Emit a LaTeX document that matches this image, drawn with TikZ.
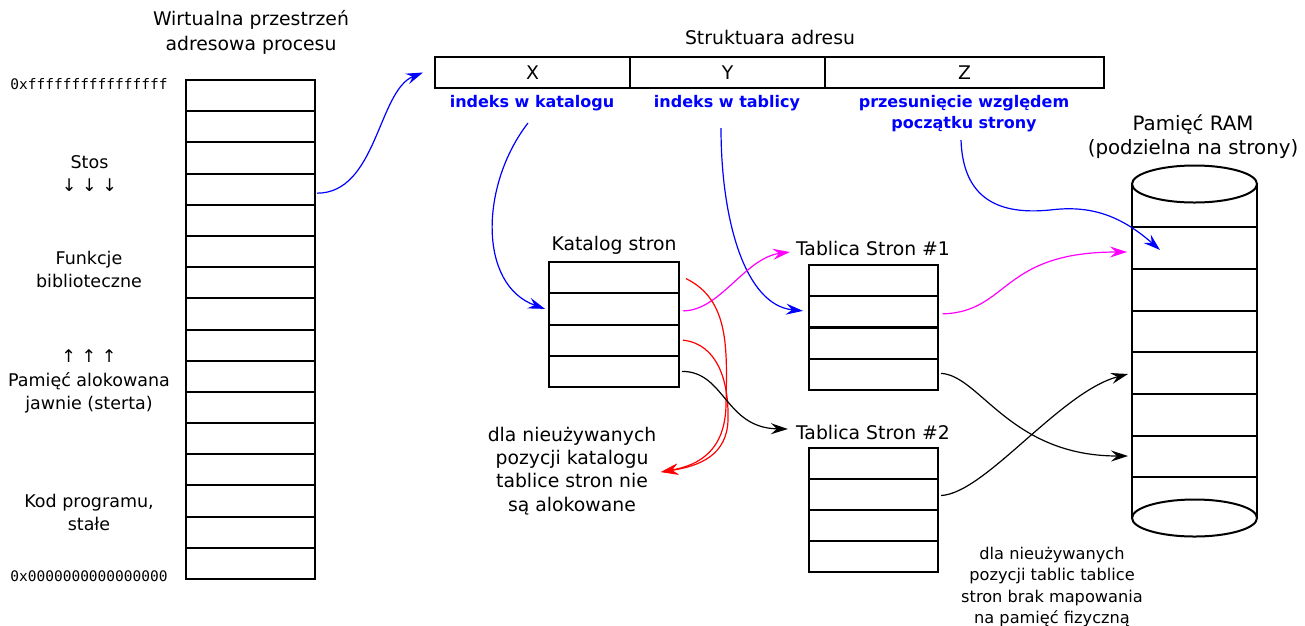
\documentclass[tikz,border=0pt]{standalone}
\usepackage{fontspec}
\setmainfont{DejaVu Sans}
\setmonofont{DejaVu Sans Mono}
\usetikzlibrary{arrows.meta,calc}
\begin{document}
\begin{tikzpicture}[x=1pt,y=-1pt,
  box/.style={draw,line width=2pt,inner sep=0pt,outer sep=0pt,fill=white},
  vcell/.style={box,minimum width=129pt,minimum height=31.19pt},
  kcell/.style={box,minimum width=130pt,minimum height=31.25pt},
  tcell/.style={box,minimum width=129pt,minimum height=31.1pt},
  acell/.style={box,minimum height=31pt,font=\fontsize{18.8}{22}\selectfont},
  txt/.style={font=\fontsize{18.8}{23.3}\selectfont,align=center,inner sep=0pt},
  side/.style={font=\fontsize{17.5}{23.3}\selectfont,align=center,inner sep=0pt},
  small/.style={font=\fontsize{16.2}{21.3}\selectfont,align=center,inner sep=0pt},
  mono/.style={font=\ttfamily\fontsize{14.5}{17}\selectfont,inner sep=0pt},
  blab/.style={font=\bfseries\fontsize{16}{21}\selectfont,text=blue,align=center,inner sep=0pt},
  conn/.style={line width=1.2pt,-{Stealth[length=17pt,width=11pt,inset=6pt]}},
  mag/.style={conn,color={rgb,255:red,255;green,0;blue,255}}
]
\useasboundingbox (0,0) rectangle (1305,625);

% virtual address space of the process
\node[txt,font=\fontsize{18.8}{25}\selectfont] (vtitle) at (251,32.5) {Wirtualna przestrzeń\\adresowa procesu};
\foreach \i in {1,...,16}
  \node[vcell] (v\i) at (250.5,{80+31.19*(\i-0.5)}) {};
\node[mono] (vtop) at (89,84) {0xffffffffffffffff};
\node[mono] (vbot) at (89,576) {0x0000000000000000};
\node[side] (stos) at (89.5,173.5) {Stos\\↓ ↓ ↓};
\node[side] (lib) at (89,269.5) {Funkcje\\biblioteczne};
\node[side] (heap) at (89,381.5) {↑ ↑ ↑\\Pamięć alokowana\\jawnie (sterta)};
\node[side] (code) at (89,512.5) {Kod programu,\\stałe};

% address structure
\node[txt] (atitle) at (770,37) {Struktuara adresu};
\node[acell,minimum width=195pt] (ax) at (532.5,72.5) {X};
\node[acell,minimum width=195pt] (ay) at (727.5,72.5) {Y};
\node[acell,minimum width=279pt] (az) at (964.5,72.5) {Z};
\node[blab] (lk) at (532,103) {indeks w katalogu};
\node[blab] (lt) at (727,103) {indeks w tablicy};
\node[blab] (lz) at (964,113.5) {przesunięcie względem\\początku strony};

% page directory
\node[txt] (klab) at (614,245) {Katalog stron};
\foreach \i in {1,...,4}
  \node[kcell] (k\i) at (614,{262+31.25*(\i-0.5)}) {};
\node[txt] (kunused) at (572,471) {dla nieużywanych\\pozycji katalogu\\tablice stron nie\\są alokowane};

% page tables
\node[txt] (t1lab) at (873,248) {Tablica Stron \#1};
\foreach \i in {1,...,4}
  \node[tcell] (ta\i) at (873.5,{265+31.25*(\i-0.5)}) {};
\node[txt] (t2lab) at (873,432) {Tablica Stron \#2};
\foreach \i in {1,...,4}
  \node[tcell] (tb\i) at (873.5,{448+31*(\i-0.5)}) {};
\node[small] (tunused) at (1052,587) {dla nieużywanych\\pozycji tablic tablice\\stron brak mapowania\\na pamięć fizyczną};

% physical memory drawn as a cylinder
\node[txt,font=\fontsize{19.8}{23.5}\selectfont] (ramlab) at (1193,136.5) {Pamięć RAM\\(podzielna na strony)};
\begin{scope}[line width=2pt]
  \fill[white] (1132,184) rectangle (1257,518);
  \draw (1132,184) -- (1132,518);
  \draw (1257,184) -- (1257,518);
  \draw (1194.5,184) ellipse [x radius=62.5, y radius=18.5];
  \draw (1194.5,518) ellipse [x radius=62.5, y radius=18.5];
  \foreach \yy in {227,269,311,352,394,436,477}
    \draw (1132,\yy) -- (1257,\yy);
\end{scope}
\coordinate (ramA) at (1127,252);
\coordinate (ramB) at (1160,250);
\coordinate (ramC) at (1128,374);
\coordinate (ramD) at (1128,456);
\coordinate (redtip) at (661,472);

% connectors
\draw[conn,blue] ($(v4.east)+(2,4)$) .. controls +(60,0) and +(-45,18) .. ($(ax.west)+(-12,0)$);
\draw[conn,blue] ($(lk.south)+(-4,12)$) .. controls (480,185) and (478,285) .. ($(k2.west)+(-4,0)$);
\draw[conn,blue] ($(lt.south)+(-6,17)$) .. controls (721,220) and (745,305) .. ($(ta2.west)+(-6,-1)$);
\draw[conn,blue] ($(lz.south)+(-3,8)$) .. controls (963,200) and (1000,215) .. (1050,210)
  .. controls (1090,205) and (1120,215) .. (ramB);

\draw[mag] ($(k2.east)+(4,2)$) .. controls +(37,0) and +(-45,6) .. ($(t1lab.west)+(-6,4)$);
\draw[mag] ($(ta2.east)+(4.5,2)$) .. controls +(67,-2) and +(-127,0) .. (ramA);

\draw[conn,red] ($(k1.east)+(7,1)$) .. controls (730,300) and (727,350) .. (726,405)
  .. controls (725,450) and (700,465) .. (redtip);
\draw[conn,red] ($(k3.east)+(4,0)$) .. controls (717,344) and (729,380) .. (728,420)
  .. controls (727,455) and (700,466) .. (redtip);

\draw[conn] ($(k4.east)+(3,0)$) .. controls +(43,0) and +(-63,-1) .. ($(t2lab.west)+(-8,-3)$);
\draw[conn] ($(ta4.east)+(3,-1)$) .. controls +(39,2) and +(-118,0) .. (ramD);
\draw[conn] ($(tb2.east)+(3,1)$) .. controls +(44,-2) and +(-68,18) .. (ramC);
\end{tikzpicture}
\end{document}
